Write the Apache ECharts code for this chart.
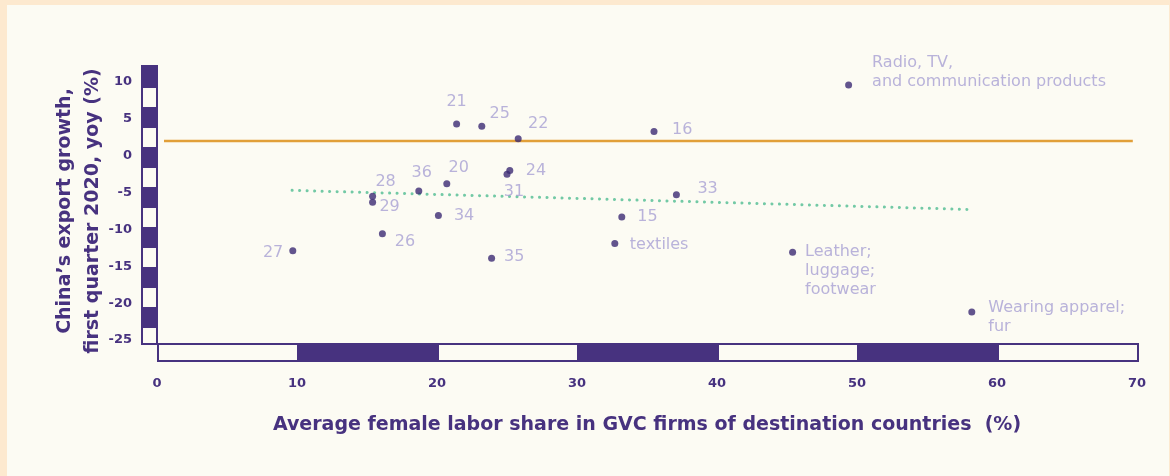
<!DOCTYPE html>
<html>
<head>
<meta charset="utf-8">
<script src="https://cdn.jsdelivr.net/npm/echarts@6/dist/echarts.min.js"></script>
<style>
  html, body { margin: 0; padding: 0; width: 1170px; height: 476px; overflow: hidden; background: #fde9cf; }
  #chart { position: absolute; left: 7px; top: 5px; width: 1162px; height: 471px; background: #fcfbf3; }
</style>
</head>
<body>
<div id="chart"></div>
<script>
// Sector labels (ISIC codes or short names) with their coordinates
const sectors = ['21', '25', '22', '20', '24', '31', '36', '28', '29', '34', '26', '27', '35',
  '16', '33', '15', 'textiles', 'Leather;\nluggage;\nfootwear',
  'Radio, TV,\nand communication products', 'Wearing apparel;\nfur'];
// Average female labor share in GVC firms of destination countries (%)
const femaleShare = [21.4, 23.2, 25.8, 20.7, 25.2, 25.0, 18.7, 15.4, 15.4, 20.1, 16.1, 9.7, 23.9,
  35.5, 37.1, 33.2, 32.7, 45.4, 49.4, 58.2];
// China's export growth, first quarter 2020, yoy (%)
const exportGrowth = [4.3, 4.0, 2.3, -3.8, -2.0, -2.5, -4.8, -5.5, -6.3, -8.1, -10.6, -12.9, -13.9,
  3.3, -5.3, -8.3, -11.9, -13.1, 9.6, -21.2];
// Fitted trend line end points
const trendX = [9.65, 58.15];
const trendY = [-4.7, -7.3];
// Overall export growth reference line
const overallX = [0.5, 69.7];
const overallY = [2.0, 2.0];
// Axis ticks
const xTicks = [0, 10, 20, 30, 40, 50, 60, 70];
const yTicks = [-25, -20, -15, -10, -5, 0, 5, 10];

const PURPLE = '#47327f';
const DOT = '#3b2a73';
const LABEL = '#a8a0d3';
const CREAM = '#fcfbf3';
const TITLE_FONT = { color: PURPLE, fontFamily: 'DejaVu Sans', fontWeight: 'bold', fontSize: 19 };
const TICK_FONT = { color: PURPLE, fontFamily: 'DejaVu Sans', fontWeight: 'bold', fontSize: 13 };

// Label placement per sector: offset from the dot centre, horizontal and vertical anchoring
const labelPlacement = {
  '21': [0, -22, 'center', 'middle'],
  '25': [18, -12, 'center', 'middle'],
  '22': [20, -15, 'center', 'middle'],
  '20': [12, -16, 'center', 'middle'],
  '24': [16, 0, 'left', 'middle'],
  '31': [7, 18, 'center', 'middle'],
  '36': [3, -18, 'center', 'middle'],
  '28': [13, -14, 'center', 'middle'],
  '29': [17, 5, 'center', 'middle'],
  '34': [15.5, 0, 'left', 'middle'],
  '26': [22.5, 7.5, 'center', 'middle'],
  '27': [-9.5, 2, 'right', 'middle'],
  '35': [12.5, -1, 'left', 'middle'],
  '16': [18, -1.5, 'left', 'middle'],
  '33': [21, -6, 'left', 'middle'],
  '15': [15.5, 0, 'left', 'middle'],
  'textiles': [15, 1.5, 'left', 'middle'],
  'Leather;\nluggage;\nfootwear': [12.5, -9.5, 'left', 'top'],
  'Radio, TV,\nand communication products': [23.5, 6, 'left', 'bottom'],
  'Wearing apparel;\nfur': [16.5, -14, 'left', 'top']
};

const points = sectors.map((name, i) => {
  const p = labelPlacement[name];
  return {
    name: name,
    value: [femaleShare[i], exportGrowth[i]],
    label: { offset: [p[0], p[1]], align: p[2], verticalAlign: p[3] }
  };
});

// Striped decorative axis bars drawn around the plotting area
function renderFrame(params, api) {
  const cs = params.coordSys;
  const left = cs.x, bottom = cs.y + cs.height;
  const children = [];
  // vertical bar
  const vTop = cs.y - 17, vBottom = bottom + 5;
  const vx0 = left - 16, vx1 = left + 1;
  children.push({ type: 'rect', shape: { x: vx0, y: vTop, width: vx1 - vx0, height: vBottom - vTop },
    style: { fill: PURPLE } });
  const period = (vBottom - vTop) / 7;
  for (let k = 0; k < 7; k++) {
    const y0 = vTop + 23 + k * period;
    const y1 = Math.min(y0 + 19, vBottom - 2);
    children.push({ type: 'rect', shape: { x: vx0 + 2, y: y0, width: vx1 - vx0 - 4, height: y1 - y0 },
      style: { fill: CREAM } });
  }
  // horizontal bar, one block per tick interval
  for (let i = 0; i < xTicks.length - 1; i++) {
    const a = api.coord([xTicks[i], yTicks[0]]);
    const b = api.coord([xTicks[i + 1], yTicks[0]]);
    children.push({ type: 'rect', shape: { x: a[0] + 1, y: bottom + 4, width: b[0] - a[0], height: 17 },
      style: { fill: i % 2 === 1 ? PURPLE : CREAM, stroke: PURPLE, lineWidth: 2 } });
  }
  return { type: 'group', children: children };
}

const chart = echarts.init(document.getElementById('chart'));
chart.setOption({
  animation: false,
  grid: { left: 150, right: 32, top: 77, bottom: 136 },
  xAxis: {
    type: 'value', min: xTicks[0], max: xTicks[xTicks.length - 1], interval: 10,
    axisLine: { show: false }, axisTick: { show: false }, splitLine: { show: false },
    axisLabel: Object.assign({ margin: 37 }, TICK_FONT),
    name: 'Average female labor share in GVC firms of destination countries  (%)',
    nameLocation: 'middle', nameGap: 76, nameMoveOverlap: false,
    nameTextStyle: TITLE_FONT
  },
  yAxis: {
    type: 'value', min: yTicks[0], max: yTicks[yTicks.length - 1], interval: 5,
    axisLine: { show: false }, axisTick: { show: false }, splitLine: { show: false },
    axisLabel: Object.assign({ margin: 25 }, TICK_FONT),
    name: 'China\u2019s export growth,\nfirst quarter 2020, yoy (%)',
    nameLocation: 'middle', nameRotate: 90, nameGap: 50, nameMoveOverlap: false,
    nameTextStyle: Object.assign({ lineHeight: 28 }, TITLE_FONT)
  },
  series: [
    {
      type: 'custom', silent: true, clip: false, z: 1,
      renderItem: renderFrame, data: [[0, 0]]
    },
    {
      type: 'line', silent: true, z: 2, symbol: 'none',
      data: overallX.map((x, i) => [x, overallY[i]]),
      lineStyle: { color: '#e19f38', width: 2.5 }
    },
    {
      type: 'line', silent: true, z: 2, symbol: 'none',
      data: trendX.map((x, i) => [x, trendY[i]]),
      lineStyle: { color: '#72c9a5', width: 3, type: [0.1, 7.4], cap: 'round' }
    },
    {
      type: 'scatter', silent: true, z: 3, symbolSize: 7,
      itemStyle: { color: DOT },
      label: {
        show: true, position: 'inside', formatter: '{b}', color: LABEL,
        fontFamily: 'DejaVu Sans', fontSize: 16, lineHeight: 19, textBorderWidth: 0
      },
      data: points
    }
  ]
});
</script>
</body>
</html>
